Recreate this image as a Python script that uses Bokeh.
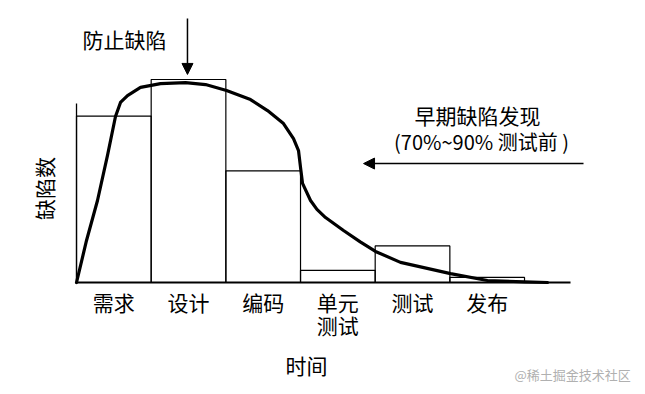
import math
from bokeh.plotting import figure
from bokeh.models import Range1d, Arrow, NormalHead, ColumnDataSource
from bokeh.core.properties import value
from bokeh.embed import file_html
from bokeh.resources import INLINE

# ---- data ----
stages = ["需求", "设计", "编码", "单元\n测试", "测试", "发布"]
defects_found = [82, 100, 55, 6, 18, 2.5]

curve_x = [0, 0.134, 0.281, 0.415, 0.522, 0.589, 0.683, 0.857, 1.125, 1.46, 1.728,
           2.009, 2.33, 2.558, 2.772, 2.906, 2.973, 3.0, 3.027, 3.134, 3.22, 3.335,
           3.576, 3.8, 4.004, 4.339, 5.009, 5.504, 6.0, 6.308]
curve_y = [0, 20.7, 40.4, 62.6, 81.8, 88.7, 92.1, 96.1, 98.0, 98.5, 97.5,
           94.6, 90.1, 84.7, 78.3, 70.9, 65.0, 56.7, 48.8, 40.4, 36.0, 32.0,
           25.6, 20.0, 15.3, 9.9, 4.4, 1.0, 0.3, 0]

x_label = "时间"
y_label = "缺陷数"
note_prevent = "防止缺陷"
note_early_1 = "早期缺陷发现"
note_early_2 = "(70%~90% 测试前 )"
watermark = "@稀土掘金技术社区"

FONT = value("Noto Sans CJK SC")

p = figure(width=637, height=386, output_backend="svg", toolbar_location=None,
           x_range=Range1d(-1.018, 7.513), y_range=Range1d(-51.23, 138.92),
           x_axis_type=None, y_axis_type=None, min_border=0,
           outline_line_color=None, background_fill_color="white",
           border_fill_color="white")
p.xgrid.visible = False
p.ygrid.visible = False

n = len(stages)
left = list(range(n))
right = [i + 1 for i in range(n)]
centers = [i + 0.5 for i in range(n)]

# bars (outlined only)
p.quad(left=left, right=right, bottom=[0] * n, top=defects_found,
       fill_color=None, line_color="black", line_width=1.2)

# baseline and left axis line
p.line(x=[0, 6.616], y=[0, 0], line_color="black", line_width=2)
p.line(x=[0, 0], y=[0, 88.2], line_color="black", line_width=1.3)

# defect curve
p.line(x=curve_x, y=curve_y, line_color="black", line_width=3.2,
       line_join="round", line_cap="round")

# category labels
src = ColumnDataSource(dict(x=centers, y=[-2.0] * n, t=stages))
p.text(x="x", y="y", text="t", source=src, text_font=FONT,
       text_font_size="21px", text_align="center", text_baseline="top",
       text_line_height=0.77, text_color="black")

# axis titles
p.text(x=[3.08], y=[-40.6], text=[x_label], text_font=FONT,
       text_font_size="21px", text_align="center", text_baseline="middle",
       text_color="black")
p.text(x=[-0.43], y=[46.3], text=[y_label], text_font=FONT,
       text_font_size="21px", text_align="center", text_baseline="middle",
       angle=math.pi / 2, text_color="black")

# annotations
p.text(x=[0.08], y=[120.2], text=[note_prevent], text_font=FONT,
       text_font_size="21px", text_align="left", text_baseline="middle",
       text_color="black")
p.add_layout(Arrow(end=NormalHead(size=11, fill_color="black", line_color="black"),
                   x_start=1.486, y_start=130.0, x_end=1.486, y_end=102.5,
                   line_color="black", line_width=1.5))

p.text(x=[5.37], y=[82.3], text=[note_early_1], text_font=FONT,
       text_font_size="21px", text_align="center", text_baseline="middle",
       text_color="black")
p.text(x=[5.424], y=[69.5], text=[note_early_2], text_font=FONT,
       text_font_size="20px", text_align="center", text_baseline="middle",
       text_color="black")
p.add_layout(Arrow(end=NormalHead(size=11, fill_color="black", line_color="black"),
                   x_start=6.79, y_start=58.6, x_end=3.844, y_end=58.6,
                   line_color="black", line_width=1.5))

# watermark
p.text(x=[6.643], y=[-45.3], text=[watermark], text_font=FONT,
       text_font_size="13px", text_align="center", text_baseline="middle",
       text_color="#b0b0b0")

open("out.html", "w").write(file_html(p, INLINE))
